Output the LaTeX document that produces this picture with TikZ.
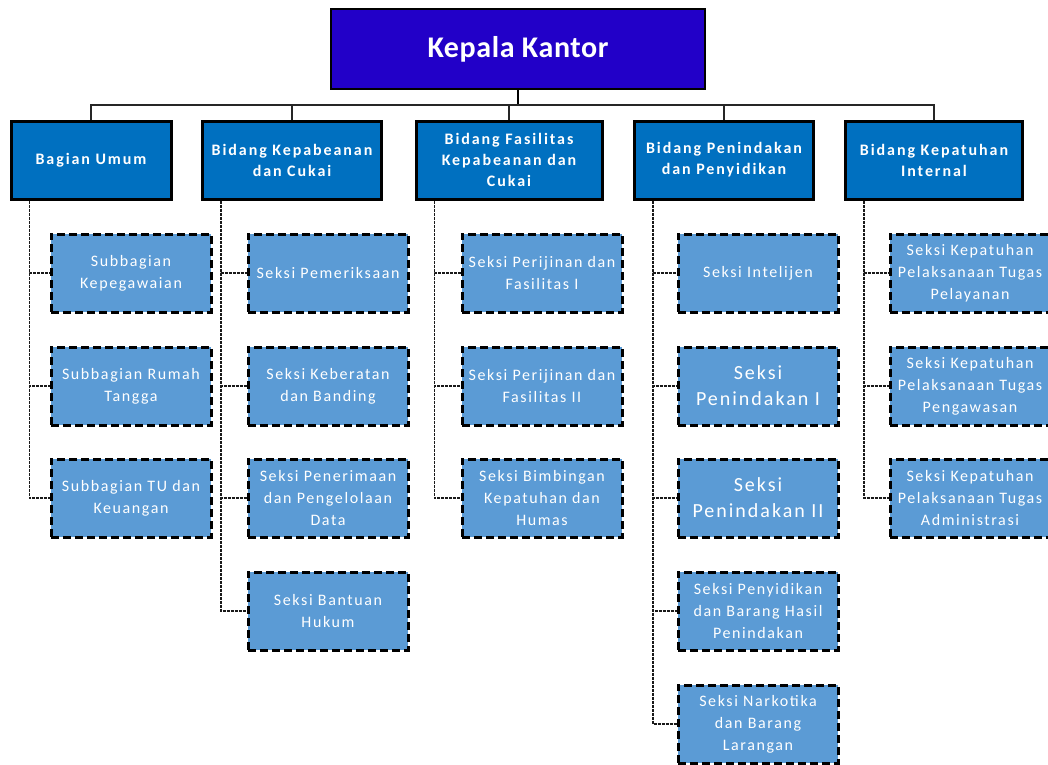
\documentclass[tikz,border=0pt]{standalone}
\usepackage{fontspec}
\setmainfont{Carlito}
\definecolor{kepala}{RGB}{34,0,200}
\definecolor{bidang}{RGB}{0,112,192}
\definecolor{seksi}{RGB}{91,155,213}

\begin{document}
\begin{tikzpicture}[x=1pt,y=-1pt,
  top/.style={draw, line width=1.5pt, fill=kepala, text=white, font=\bfseries\fontsize{30}{34}\selectfont\addfontfeature{LetterSpace=2}, minimum width=374pt, minimum height=80pt},
  head/.style={draw, line width=3pt, fill=bidang, text=white, font=\bfseries\fontsize{16}{21}\selectfont\addfontfeature{LetterSpace=12}, minimum height=78pt, align=center, inner sep=1pt},
  unit/.style={draw, line width=3pt, dash pattern=on 8pt off 4pt, fill=seksi, text=white, font=\fontsize{16}{22}\selectfont\addfontfeature{LetterSpace=10}, minimum width=160pt, minimum height=78pt, align=center, inner sep=1pt},
  big/.style={font=\fontsize{20}{26}\selectfont\addfontfeature{LetterSpace=10}},
  link/.style={line width=1.3pt, black!90, dash pattern=on 3pt off 1pt}]
      \useasboundingbox (0,0) rectangle (1048,764);

      \node[top] (kk) at (518,49) {Kepala Kantor};
      \coordinate (bus) at (518,105);

      \node[head, minimum width=160pt] (umum) at (91,160) {Bagian Umum};
      \node[head, minimum width=179pt] (pab) at (292,160) {Bidang Kepabeanan\\dan Cukai};
      \node[head, minimum width=186pt] (fas) at (509,160) {Bidang Fasilitas\\Kepabeanan dan\\Cukai};
      \node[head, minimum width=179pt] (pen) at (724,160) {Bidang Penindakan\\dan Penyidikan};
      \node[head, minimum width=177pt] (kep) at (934,160) {Bidang Kepatuhan\\Internal};

      \draw[line width=2.2pt] (kk.south) -- (bus);
      \draw[line width=1.3pt, black!85] (bus) -| (umum.north) (bus) -| (pab.north) (bus) -| (fas.north) (bus) -| (pen.north) (bus) -| (kep.north);

      \begin{scope}[xshift=131pt]
      \node[unit] (u1) at (0,273) {Subbagian\\Kepegawaian};
      \node[unit] (u2) at (0,386) {Subbagian Rumah\\Tangga};
      \node[unit] (u3) at (0,498) {Subbagian TU dan\\Keuangan};
      \end{scope}

      \begin{scope}[xshift=328pt]
      \node[unit] (p1) at (0,273) {Seksi Pemeriksaan};
      \node[unit] (p2) at (0,386) {Seksi Keberatan\\dan Banding};
      \node[unit] (p3) at (0,498) {Seksi Penerimaan\\dan Pengelolaan\\Data};
      \node[unit] (p4) at (0,611) {Seksi Bantuan\\Hukum};
      \end{scope}

      \begin{scope}[xshift=542pt]
      \node[unit] (f1) at (0,273) {Seksi Perijinan dan\\Fasilitas I};
      \node[unit] (f2) at (0,386) {Seksi Perijinan dan\\Fasilitas II};
      \node[unit] (f3) at (0,498) {Seksi Bimbingan\\Kepatuhan dan\\Humas};
      \end{scope}

      \begin{scope}[xshift=758pt]
      \node[unit] (n1) at (0,273) {Seksi Intelijen};
      \node[unit, big] (n2) at (0,386) {Seksi\\Penindakan I};
      \node[unit, big] (n3) at (0,498) {Seksi\\Penindakan II};
      \node[unit] (n4) at (0,611) {Seksi Penyidikan\\dan Barang Hasil\\Penindakan};
      \node[unit] (n5) at (0,724) {Seksi Narkotika\\dan Barang\\Larangan};
      \end{scope}

      \begin{scope}[xshift=970pt]
      \node[unit] (k1) at (0,273) {Seksi Kepatuhan\\Pelaksanaan Tugas\\Pelayanan};
      \node[unit] (k2) at (0,386) {Seksi Kepatuhan\\Pelaksanaan Tugas\\Pengawasan};
      \node[unit] (k3) at (0,498) {Seksi Kepatuhan\\Pelaksanaan Tugas\\Administrasi};
      \end{scope}

      \draw[link] ([xshift=20pt]umum.south west) |- (u1.west) ([xshift=20pt]umum.south west) |- (u2.west) ([xshift=20pt]umum.south west) |- (u3.west);
      \draw[link] ([xshift=20pt]pab.south west) |- (p1.west) ([xshift=20pt]pab.south west) |- (p2.west) ([xshift=20pt]pab.south west) |- (p3.west) ([xshift=20pt]pab.south west) |- (p4.west);
      \draw[link] ([xshift=20pt]fas.south west) |- (f1.west) ([xshift=20pt]fas.south west) |- (f2.west) ([xshift=20pt]fas.south west) |- (f3.west);
      \draw[link] ([xshift=20pt]pen.south west) |- (n1.west) ([xshift=20pt]pen.south west) |- (n2.west) ([xshift=20pt]pen.south west) |- (n3.west) ([xshift=20pt]pen.south west) |- (n4.west) ([xshift=20pt]pen.south west) |- (n5.west);
      \draw[link] ([xshift=20pt]kep.south west) |- (k1.west) ([xshift=20pt]kep.south west) |- (k2.west) ([xshift=20pt]kep.south west) |- (k3.west);
\end{tikzpicture}
\end{document}
